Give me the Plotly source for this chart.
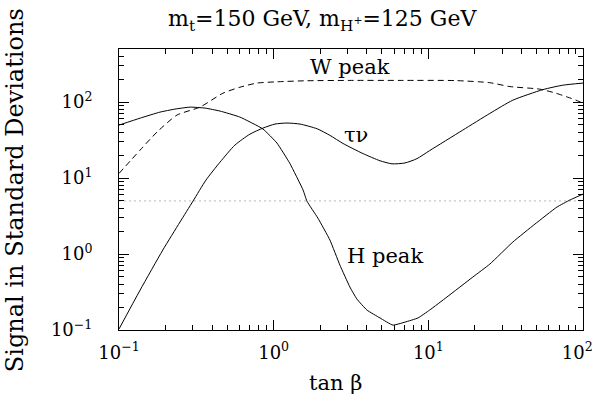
import plotly.graph_objects as go
import numpy as np

# ---- data ----
tau_x = [0.100, 0.137, 0.192, 0.248, 0.301, 0.365, 0.450, 0.562, 0.703, 0.853, 1.02, 1.22, 1.48,
         1.91, 2.31, 2.81, 3.78, 4.87, 5.82, 7.06, 8.44, 10.2, 16.7, 25.0, 35.2, 55.1, 74.1, 100]
tau_y = [0.103, 0.336, 1.13, 2.64, 4.98, 9.41, 16.2, 27.2, 37.9, 45.5, 51.4, 53.0, 51.4,
         44.5, 36.5, 28.5, 21.0, 16.9, 15.4, 15.8, 18.0, 23.0, 42.8, 71.0, 106, 146, 167, 178]

hpk_x = [0.100, 0.137, 0.184, 0.230, 0.288, 0.360, 0.450, 0.605, 0.853, 1.05, 1.27, 1.55, 1.64,
         1.93, 2.31, 2.68, 3.11, 3.45, 4.01, 4.87, 5.90, 7.06, 8.57, 10.2, 13.2, 19.4, 25.0,
         35.2, 48.9, 67.8, 82.3, 100]
hpk_y = [49.8, 61.5, 73.8, 80.9, 85.9, 83.4, 76.2, 63.5, 44.2, 28.9, 15.7, 6.95, 4.98,
         2.98, 1.53, 0.716, 0.368, 0.256, 0.183, 0.144, 0.116, 0.127, 0.144, 0.183, 0.272, 0.498, 0.738,
         1.44, 2.48, 4.15, 5.14, 6.15]

w_x = [0.100, 0.137, 0.176, 0.237, 0.334, 0.470, 0.605, 0.780, 1.05, 1.64, 3.11, 6.55, 15.0,
       25.0, 33.7, 52.6, 66.8, 79.8, 90.0, 100]
w_y = [11.5, 23.4, 40.3, 67.5, 85.9, 131, 157, 178, 185, 191, 193, 193, 192,
       180, 160, 148, 131, 116, 106, 97]

threshold = 5.0
x_range = [0.1, 100]

decades = [0.1, 1, 10, 100]
y_labels = ["10<sup>−1</sup>", "10<sup>0</sup>", "10<sup>1</sup>", "10<sup>2</sup>"]
x_labels = ["10<sup>−1</sup>", "10<sup>0</sup>", "10<sup>1</sup>", "10<sup>2</sup>\u00a0\u00a0"]
y_max = 500

FONT = "DejaVu Serif"

minor_x = [m * d for d in [0.1, 1, 10] for m in range(2, 10)]
minor_y = [m * d for d in [0.1, 1, 10] for m in range(2, 10)] + [200, 300, 400]

fig = go.Figure()
fig.add_trace(go.Scatter(x=x_range, y=[threshold, threshold], mode="lines",
                         line=dict(color="#b8b8b8", width=1, dash="2px,3px"), hoverinfo="skip"))
fig.add_trace(go.Scatter(x=w_x, y=w_y, mode="lines",
                         line=dict(color="black", width=1, dash="6px,4px",
                                   shape="spline", smoothing=0.6)))
fig.add_trace(go.Scatter(x=tau_x, y=tau_y, mode="lines",
                         line=dict(color="black", width=1, shape="spline", smoothing=0.6)))
fig.add_trace(go.Scatter(x=hpk_x, y=hpk_y, mode="lines",
                         line=dict(color="black", width=1, shape="spline", smoothing=0.4)))

axis_common = dict(
    type="log", showgrid=False, zeroline=False, automargin=False,
    showline=True, linecolor="black", linewidth=1, mirror="allticks",
    ticks="inside", ticklen=10, tickcolor="black", tickwidth=1,
    tickmode="array", tickvals=decades,
    tickfont=dict(family=FONT, size=18, color="black"),
    ticklabeloverflow="allow",
)

fig.update_xaxes(**axis_common, range=[-1, 2], ticklabelstandoff=6, ticktext=x_labels,
                 minor=dict(tickmode="array", tickvals=minor_x, ticks="inside",
                            ticklen=5, tickcolor="black", showgrid=False))
fig.update_yaxes(**axis_common, range=[-1, np.log10(y_max)], ticklabelstandoff=22,
                 ticktext=y_labels,
                 minor=dict(tickmode="array", tickvals=minor_y, ticks="inside",
                            ticklen=5, tickcolor="black", showgrid=False))

annots = [
    dict(text="m<sub>t</sub>=150 GeV, m<sub>H<sup>+</sup></sub>=125 GeV", x=0.4375, y=1.103,
         size=22),
    dict(text="W peak", x=0.498, y=0.936, size=21),
    dict(text="τν", x=0.511, y=0.694, size=21),
    dict(text="H peak", x=0.573, y=0.263, size=21),
    dict(text="tan β", x=0.466, y=-0.189, size=21),
]
for a in annots:
    fig.add_annotation(text=a["text"], x=a["x"], y=a["y"], xref="paper", yref="paper",
                       showarrow=False, xanchor="center", yanchor="middle",
                       font=dict(family=FONT, size=a["size"], color="black"))
fig.add_annotation(text="Signal in Standard Deviations", x=-0.224, y=0.498,
                   xref="paper", yref="paper", showarrow=False, textangle=-90,
                   xanchor="center", yanchor="middle",
                   font=dict(family=FONT, size=24, color="black"))

fig.update_layout(
    width=596, height=412,
    margin=dict(l=119, r=13, t=49, b=82, autoexpand=False),
    paper_bgcolor="white", plot_bgcolor="white",
    showlegend=False,
)

fig.write_html("out.html")
